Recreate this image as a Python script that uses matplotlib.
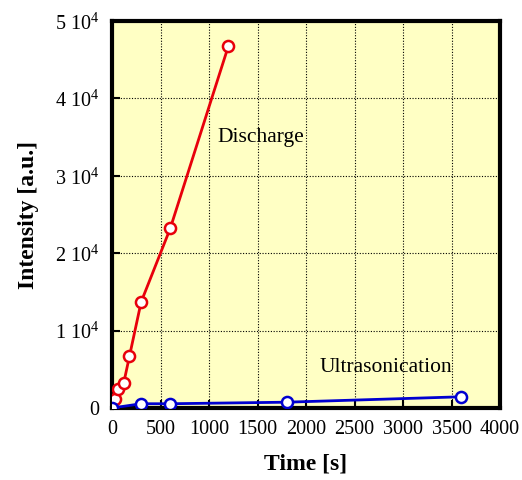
import numpy as np
from matplotlib import pyplot as plt

plt.rcParams['font.family'] = ['Liberation Serif', 'DejaVu Serif']
plt.rcParams['mathtext.fontset'] = 'custom'
plt.rcParams['mathtext.rm'] = 'Liberation Serif'

# discharge data
t_dis = [0, 30, 60, 120, 180, 300, 600, 1200]
i_dis = [0, 1200, 2500, 3200, 6700, 13700, 23200, 46800]

# ultrasonication data
t_us = [0, 300, 600, 1800, 3600]
i_us = [0, 550, 550, 750, 1450]

yticks = [0, 10000, 20000, 30000, 40000, 50000]
ytick_labels = ['0'] + ['%d $10^4$' % k for k in range(1, 6)]
xticks = [0, 500, 1000, 1500, 2000, 2500, 3000, 3500, 4000]

fig = plt.figure(figsize=(5.22, 4.8), dpi=100)
ax = fig.add_axes([0.2146, 0.15, 0.7434, 0.806])
ax.set_facecolor('#ffffc4')

ax.plot(t_dis, i_dis, '-o', color='#e8000b', lw=2, ms=8, mfc='white', mew=1.8, zorder=3)
ax.plot(t_us, i_us, '-o', color='#0000d0', lw=2, ms=8, mfc='white', mew=1.8, zorder=4)

ax.set_xlim(0, 4000)
ax.set_ylim(0, 50000)
ax.set_xticks(xticks)
ax.set_yticks(yticks)
ax.set_yticklabels(ytick_labels)
ax.tick_params(direction='in', length=6, width=1.5, labelsize=14.5)
ax.tick_params(axis='x', pad=9)
ax.tick_params(axis='y', pad=9)
ax.grid(True, color='black', linestyle=(0, (1, 1.5)), linewidth=0.8)
for s in ax.spines.values():
    s.set_linewidth(3)

ax.set_xlabel('Time [s]', fontsize=17, fontweight='bold', labelpad=10)
ax.set_ylabel('Intensity [a.u.]', fontsize=17, fontweight='bold', labelpad=12)

ax.text(1090, 35000, 'Discharge', fontsize=15.5, va='center')
ax.text(2140, 5200, 'Ultrasonication', fontsize=15.5, va='center')

fig.savefig('out.png', dpi=100)
